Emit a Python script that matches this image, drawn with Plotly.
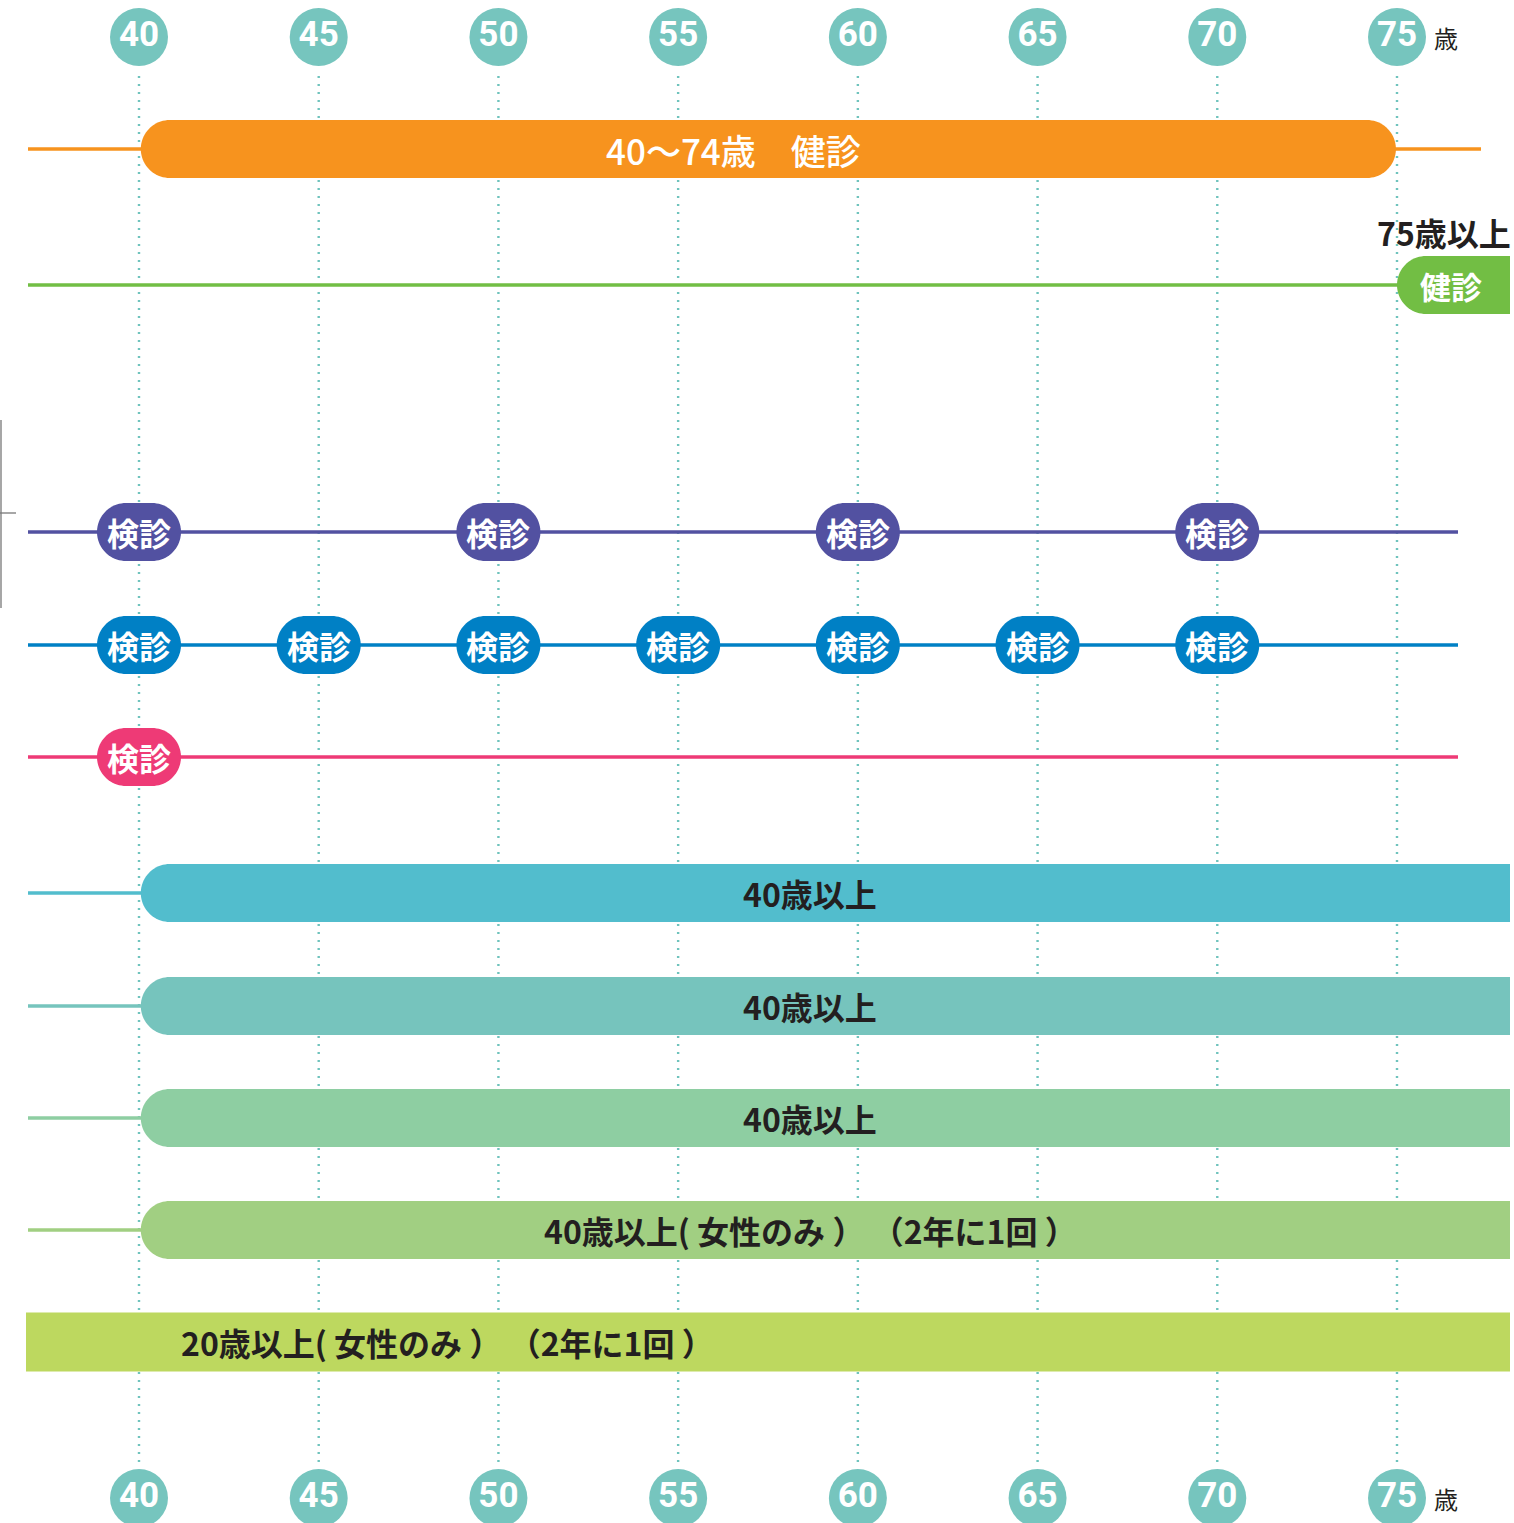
import numpy as np
import plotly.graph_objects as go

# ---------------- data ----------------
ages = [40, 45, 50, 55, 60, 65, 70, 75]
age_labels = [str(a) for a in ages]
age_unit = "歳"

tokutei_range = [40, 75]
tokutei_label = "40～74歳　健診"
kouki_start = 75
kouki_label = "健診"
kouki_title = "75歳以上"

kenshin_label = "検診"
purple_ages = [40, 50, 60, 70]
blue_ages = [40, 45, 50, 55, 60, 65, 70]
pink_ages = [40]

bar_starts = [40, 40, 40, 40]
bar_labels = ["40歳以上", "40歳以上", "40歳以上", "40歳以上( 女性のみ ） （2年に1回 ）"]
bottom_label = "20歳以上( 女性のみ ） （2年に1回 ）"

# ---------------- styles / layout ----------------
W, H = 1514, 1523
PX = 1258 / 35.0                 # pixels per year
X0 = 40 - 139 / PX               # age at left edge
X1 = X0 + W / PX                 # age at right edge


def px2age(p):
    return X0 + p / PX


C_ORANGE = "#F7931E"
C_GREEN = "#72BE44"
C_PURPLE = "#5251A1"
C_BLUE = "#0080C5"
C_PINK = "#EE3A76"
BAR_COLORS = ["#52BDCD", "#76C4BD", "#8ECEA2", "#A1CF82"]
C_BOTTOM = "#BDD85F"
C_CIRCLE = "#76C5BE"
C_DOT = "#6FC3BD"
C_TEXT = "#231F20"

JP = "Noto Sans CJK JP"
NUMFONT = "Roboto, Liberation Sans, sans-serif"

Y_TOP_CIRC, Y_BOT_CIRC = 37, 1498
Y_ORANGE, Y_GREEN = 149, 285
Y_PURPLE, Y_BLUE, Y_PINK = 532, 645, 757
Y_BARS = [893, 1006, 1118, 1230]
Y_BOTTOM = 1342
BAR_H = 58
PILL_W = 84

LINE_START = px2age(28)


def stadium(xl, xr, yc, h, round_left=True, round_right=True, n=40):
    r = h / 2.0
    rx = r / PX
    xs, ys = [], []
    if round_left:
        t = np.linspace(np.pi / 2, 3 * np.pi / 2, n)
        xs += list(xl + rx + rx * np.cos(t))
        ys += list(yc - r * np.sin(t))
    else:
        xs += [xl, xl]
        ys += [yc - r, yc + r]
    if round_right:
        t = np.linspace(-np.pi / 2, np.pi / 2, n)
        xs += list(xr - rx + rx * np.cos(t))
        ys += list(yc - r * np.sin(t))
    else:
        xs += [xr, xr]
        ys += [yc + r, yc - r]
    return "M " + " L ".join(f"{x:.5f},{y:.3f}" for x, y in zip(xs, ys)) + " Z"


fig = go.Figure()
shapes = []
annotations = []

# dotted age gridlines
gx, gy = [], []
for a in ages:
    gx += [a, a, None]
    gy += [76, 1464, None]
fig.add_trace(go.Scatter(x=gx, y=gy, mode="lines", hoverinfo="skip",
                         line=dict(color=C_DOT, width=2.4, dash="2px,6px")))


def hline(x0, x1, y, color, width=3.5):
    fig.add_trace(go.Scatter(x=[x0, x1], y=[y, y], mode="lines", hoverinfo="skip",
                             line=dict(color=color, width=width)))


hline(LINE_START, px2age(1481), Y_ORANGE, C_ORANGE)
hline(LINE_START, kouki_start + 0.5, Y_GREEN, C_GREEN)
hline(LINE_START, px2age(1458), Y_PURPLE, C_PURPLE)
hline(LINE_START, px2age(1458), Y_BLUE, C_BLUE)
hline(LINE_START, px2age(1458), Y_PINK, C_PINK)
for s, y, c in zip(bar_starts, Y_BARS, BAR_COLORS):
    hline(LINE_START, s + 0.2, y, c)

# left bracket
bx = px2age(1)
fig.add_trace(go.Scatter(x=[bx, bx, None, px2age(0), px2age(16)],
                         y=[420, 608, None, 513, 513], mode="lines", hoverinfo="skip",
                         line=dict(color="#777777", width=1.3)))

# age circles top and bottom
for yc in (Y_TOP_CIRC, Y_BOT_CIRC):
    fig.add_trace(go.Scatter(
        x=ages, y=[yc] * len(ages), mode="markers+text", hoverinfo="skip",
        marker=dict(size=58, color=C_CIRCLE, line=dict(width=0)),
        text=[f"<b>{t}</b>" for t in age_labels], textposition="middle center",
        textfont=dict(family=NUMFONT, size=35, color="white"),
        cliponaxis=True))
    annotations.append(dict(x=px2age(1432), y=yc, text=age_unit, showarrow=False,
                            xanchor="left", yanchor="middle",
                            font=dict(family=JP, size=24, color=C_TEXT)))

# orange bar 40-74
shapes.append(dict(type="path", xref="x", yref="y", layer="above",
                   path=stadium(tokutei_range[0] + 0.05, tokutei_range[1] - 0.03, Y_ORANGE, BAR_H),
                   fillcolor=C_ORANGE, line=dict(width=0)))
annotations.append(dict(x=px2age(733), y=Y_ORANGE, text=tokutei_label, showarrow=False,
                        font=dict(family=JP, size=35, color="white", weight=500)))

# green 75+
shapes.append(dict(type="path", xref="x", yref="y", layer="above",
                   path=stadium(kouki_start, px2age(1510), Y_GREEN, BAR_H, round_right=False),
                   fillcolor=C_GREEN, line=dict(width=0)))
annotations.append(dict(x=px2age(1451), y=Y_GREEN, text=f"<b>{kouki_label}</b>", showarrow=False,
                        font=dict(family=JP, size=31, color="white")))
annotations.append(dict(x=px2age(1513), y=232, text=f"<b>{kouki_title}</b>", showarrow=False,
                        xanchor="right", yanchor="middle",
                        font=dict(family=JP, size=32, color=C_TEXT)))

# 検診 pills
for ages_list, yc, col in ((purple_ages, Y_PURPLE, C_PURPLE),
                           (blue_ages, Y_BLUE, C_BLUE),
                           (pink_ages, Y_PINK, C_PINK)):
    for a in ages_list:
        hw = PILL_W / 2 / PX
        shapes.append(dict(type="path", xref="x", yref="y", layer="above",
                           path=stadium(a - hw, a + hw, yc, BAR_H),
                           fillcolor=col, line=dict(width=0)))
        annotations.append(dict(x=a, y=yc, text=f"<b>{kenshin_label}</b>", showarrow=False,
                                font=dict(family=JP, size=32, color="white")))

# long bars
for s, y, c, lab in zip(bar_starts, Y_BARS, BAR_COLORS, bar_labels):
    shapes.append(dict(type="path", xref="x", yref="y", layer="above",
                       path=stadium(s + 0.05, px2age(1510), y, BAR_H, round_right=False),
                       fillcolor=c, line=dict(width=0)))
    annotations.append(dict(x=px2age(810), y=y, text=f"<b>{lab}</b>", showarrow=False,
                            font=dict(family=JP, size=32, color=C_TEXT)))

# bottom bar (20+)
shapes.append(dict(type="path", xref="x", yref="y", layer="above",
                   path=stadium(px2age(26), px2age(1510), Y_BOTTOM, 59,
                                round_left=False, round_right=False),
                   fillcolor=C_BOTTOM, line=dict(width=0)))
annotations.append(dict(x=px2age(179), y=Y_BOTTOM, text=f"<b>{bottom_label}</b>", showarrow=False,
                        xanchor="left",
                        font=dict(family=JP, size=32, color=C_TEXT)))

fig.update_layout(
    width=W, height=H,
    margin=dict(l=0, r=0, t=0, b=0),
    paper_bgcolor="white", plot_bgcolor="white",
    showlegend=False,
    shapes=shapes, annotations=annotations,
    xaxis=dict(range=[X0, X1], visible=False, fixedrange=True),
    yaxis=dict(range=[H, 0], visible=False, fixedrange=True),
)

fig.write_html("out.html", config={"displayModeBar": False},
               post_script="document.body.style.margin='0px';")
